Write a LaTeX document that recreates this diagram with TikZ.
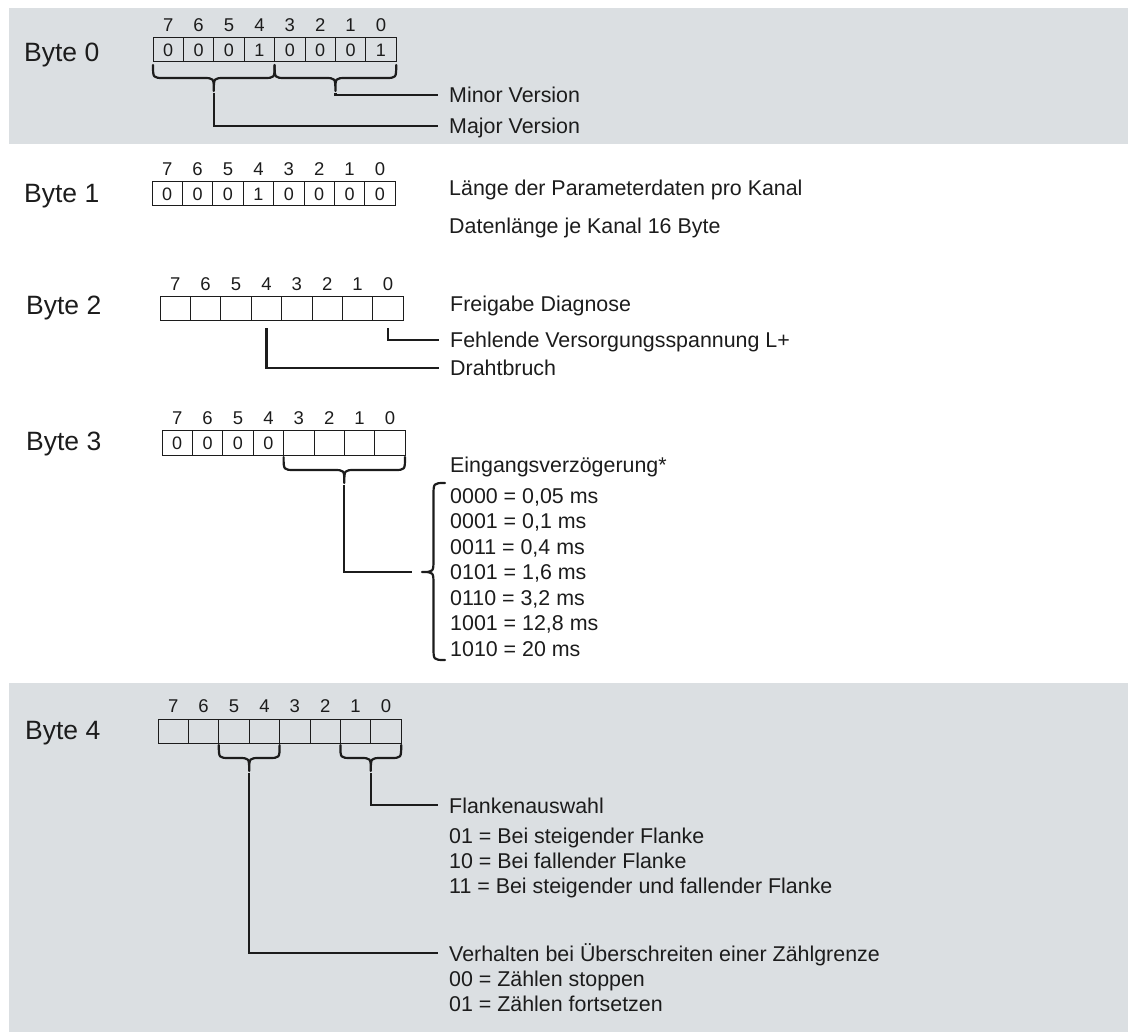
\documentclass[tikz,border=0pt]{standalone}
\usepackage{fontspec}
\setmainfont{Liberation Sans}
\definecolor{band}{RGB}{219,223,226}
\definecolor{ink}{RGB}{28,28,28}
\newcommand\bracedn[4]{%
  \pgfmathsetmacro\bxm{(#1+#2)/2}%
  \draw[bracestyle] (#1,#3) .. controls (#1,#3+13) .. (#1+11,#3+13) -- (\bxm-11,#3+13)
     .. controls (\bxm,#3+13) .. (\bxm,#3+26) .. controls (\bxm,#3+13) .. (\bxm+11,#3+13)
     -- (#2-11,#3+13) .. controls (#2,#3+13) .. (#2,#3);
  \coordinate (#4) at (\bxm,#3+28);
}
\newcommand\byterow[4]{%
  \foreach \b/\v [count=\i from 0] in {#4} {
    \node[cell] (#1c\b) at ({#2+(\i+0.5)*30.4},{#3+12}) {\v};
    \node[bitnum] (#1n\b) at ({#2+(\i+0.5)*30.4},{#3-13}) {\b};
  }%
}
\begin{document}
\begin{tikzpicture}[x=1pt,y=-1pt,
  cell/.style={draw=ink, line width=1pt, minimum width=30.4pt, minimum height=24pt,
    inner sep=0pt, font=\fontsize{18}{18}\selectfont, text=ink},
  bitnum/.style={font=\fontsize{18.5}{18.5}\selectfont, text=ink, inner sep=0pt},
  bytelbl/.style={font=\fontsize{26.5}{26.5}\selectfont, text=ink, inner sep=0pt, anchor=base west},
  desc/.style={font=\fontsize{21.4}{21.4}\selectfont, text=ink, inner sep=0pt, anchor=base west,
    text height=15.3pt, text depth=0pt},
  conn/.style={draw=ink, line width=2.2pt},
  bracestyle/.style={draw=ink, line width=2.2pt, line cap=round, line join=round}
]
\useasboundingbox (0,0) rectangle (1128,1032);
\fill[band] (9,8) rectangle (1128,144);
\fill[band] (9,683) rectangle (1128,1032);

% ---------- Byte 0
\node[bytelbl] (byte0) at (24,62) {Byte 0};
\byterow{b0}{153}{38}{7/0,6/0,5/0,4/1,3/0,2/0,1/0,0/1}
\bracedn{153}{274.6}{65}{b0maj}
\bracedn{274.6}{396.2}{65}{b0min}
\node[desc] (minor) at (449,103) {Minor Version};
\node[desc] (major) at (449,134) {Major Version};
\draw[conn] (b0min) |- ([xshift=-11pt]minor.west);
\draw[conn] (b0maj) |- ([xshift=-11pt]major.west);

% ---------- Byte 1
\node[bytelbl] (byte1) at (24,203) {Byte 1};
\byterow{b1}{152}{182}{7/0,6/0,5/0,4/1,3/0,2/0,1/0,0/0}
\node[desc] (laenge) at (449,196) {Länge der Parameterdaten pro Kanal};
\node[desc] (datenl) at (449,234) {Datenlänge je Kanal 16 Byte};

% ---------- Byte 2
\node[bytelbl] (byte2) at (26,315) {Byte 2};
\byterow{b2}{160}{297}{7/{},6/{},5/{},4/{},3/{},2/{},1/{},0/{}}
\node[desc] (freig) at (450,312) {Freigabe Diagnose};
\node[desc] (fehl) at (450,348) {Fehlende Versorgungsspannung L+};
\node[desc] (draht) at (450,376) {Drahtbruch};
\draw[conn] ([yshift=-7pt]b2c0.south) |- ([xshift=-11pt]fehl.west);
\draw[conn] ([yshift=-7pt]b2c4.south) |- ([xshift=-11pt]draht.west);

% ---------- Byte 3
\node[bytelbl] (byte3) at (26,450) {Byte 3};
\byterow{b3}{162}{431}{7/0,6/0,5/0,4/0,3/{},2/{},1/{},0/{}}
\bracedn{283.6}{405}{457}{b3tip}
\draw[bracestyle] (445,483) .. controls (433.5,483) .. (433.5,496) -- (433.5,559)
   .. controls (433.5,572) .. (422,572) .. controls (433.5,572) .. (433.5,585)
   -- (433.5,647) .. controls (433.5,660) .. (445,660);
\coordinate (bigtip) at (422,572);
\draw[conn] (b3tip) |- ([xshift=-10pt]bigtip);
\node[desc] (eing) at (450,472) {Eingangsverzögerung*};
\node[desc] (v0) at (450,503.0) {0000 = 0,05 ms};
\node[desc] (v1) at (450,528.5) {0001 = 0,1 ms};
\node[desc] (v2) at (450,554.0) {0011 = 0,4 ms};
\node[desc] (v3) at (450,579.5) {0101 = 1,6 ms};
\node[desc] (v4) at (450,605.0) {0110 = 3,2 ms};
\node[desc] (v5) at (450,630.5) {1001 = 12,8 ms};
\node[desc] (v6) at (450,656.0) {1010 = 20 ms};

% ---------- Byte 4
\node[bytelbl] (byte4) at (25,739) {Byte 4};
\byterow{b4}{158}{719}{7/{},6/{},5/{},4/{},3/{},2/{},1/{},0/{}}
\bracedn{218.8}{279.6}{745}{b4a}
\bracedn{340.4}{401.2}{745}{b4b}
\node[desc] (flank) at (449,813) {Flankenauswahl};
\node[desc] (f1) at (449,843) {01 = Bei steigender Flanke};
\node[desc] (f2) at (449,868) {10 = Bei fallender Flanke};
\node[desc] (f3) at (449,893) {11 = Bei steigender und fallender Flanke};
\node[desc] (verh) at (449,961) {Verhalten bei Überschreiten einer Zählgrenze};
\node[desc] (z1) at (449,986) {00 = Zählen stoppen};
\node[desc] (z2) at (449,1011) {01 = Zählen fortsetzen};
\draw[conn] (b4b) |- ([xshift=-11pt]flank.west);
\draw[conn] (b4a) |- ([xshift=-11pt]verh.west);
\end{tikzpicture}
\end{document}
